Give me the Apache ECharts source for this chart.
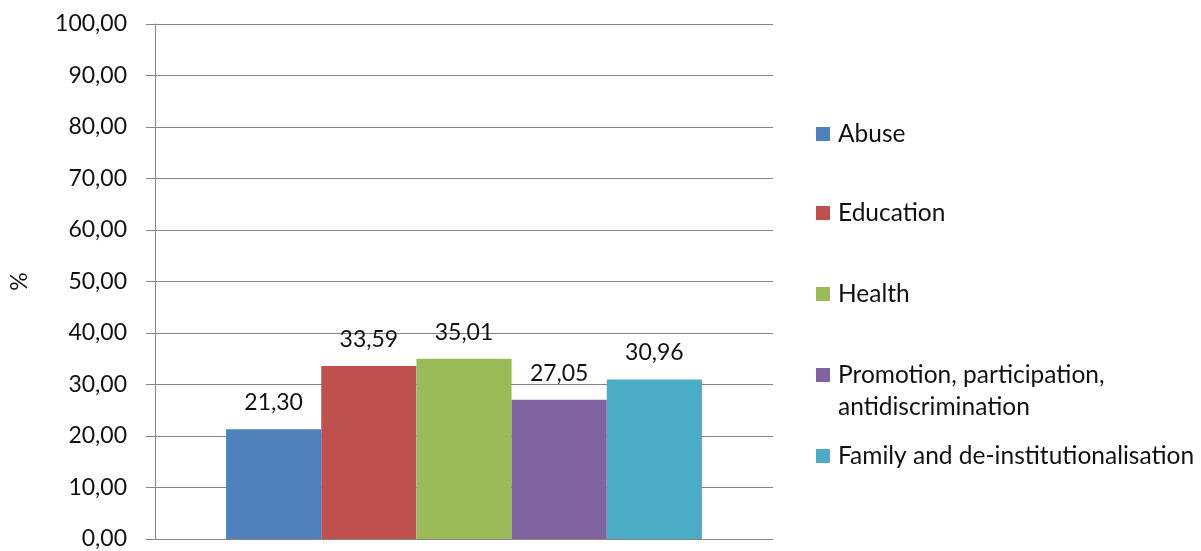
<!DOCTYPE html>
<html><head><meta charset="utf-8">
<script src="https://cdn.jsdelivr.net/npm/echarts@6/dist/echarts.min.js"></script>
<style>html,body{margin:0;padding:0;background:#fff}#c{width:1201px;height:551px}</style>
</head><body><div id="c"></div>
<script>
const categories = [''];
const seriesNames = ['Abuse', 'Education', 'Health', 'Promotion, participation,\nantidiscrimination', 'Family and de-institutionalisation'];
const seriesValues = [21.30, 33.59, 35.01, 27.05, 30.96];
const seriesColors = ['#4F81BD', '#C0504D', '#9BBB59', '#8064A2', '#4BACC6'];
const yTicks = { min: 0, max: 100, interval: 10 };
const legendTops = [118, 197, 278, 359, 440];

const FONT = 'Lato';
const fmt = v => v.toFixed(2).replace('.', ',');

const chart = echarts.init(document.getElementById('c'), null, { renderer: 'canvas' });
const legends = seriesNames.map((n, i) => ({
  data: [n],
  orient: 'vertical',
  left: 816,
  top: legendTops[i],
  itemWidth: 14,
  itemHeight: i === 3 ? 46 : 14,
  icon: i === 3 ? 'path://M0,0h14v14h-14z M0,46h0.01v0.01h-0.01z' : 'rect',
  itemGap: 0,
  selectedMode: false,
  textStyle: { fontFamily: FONT, fontSize: 24.5, color: '#111', lineHeight: 32, padding: [0, 0, 0, 3] },
  padding: 0
}));

chart.setOption({
  animation: false,
  textStyle: { fontFamily: FONT },
  grid: { left: 155, right: 428, top: 24, bottom: 12, containLabel: false },
  legend: legends,
  xAxis: {
    type: 'category',
    data: categories,
    axisLine: { show: true, lineStyle: { color: '#868686', width: 1 } },
    axisTick: { show: false },
    axisLabel: { show: false }
  },
  yAxis: {
    type: 'value',
    min: yTicks.min, max: yTicks.max, interval: yTicks.interval,
    name: '%',
    nameLocation: 'middle',
    nameRotate: 90,
    nameGap: 124,
    nameTextStyle: { fontFamily: FONT, fontSize: 23, color: '#111' },
    axisLine: { show: true, lineStyle: { color: '#868686', width: 1 } },
    axisTick: { show: true, length: 9, lineStyle: { color: '#868686' } },
    axisLabel: { fontFamily: FONT, fontSize: 23, color: '#111', margin: 28, formatter: v => fmt(v) },
    splitLine: { show: true, lineStyle: { color: '#868686', width: 1 } }
  },
  series: seriesNames.map((n, i) => ({
    name: n,
    type: 'bar',
    data: [seriesValues[i]],
    barGap: 0,
    barCategoryGap: '23%',
    itemStyle: { color: seriesColors[i] },
    label: {
      show: true, position: 'top', distance: 15,
      fontFamily: FONT, fontSize: 23, color: '#111',
      formatter: p => fmt(p.value)
    }
  }))
});
</script></body></html>
